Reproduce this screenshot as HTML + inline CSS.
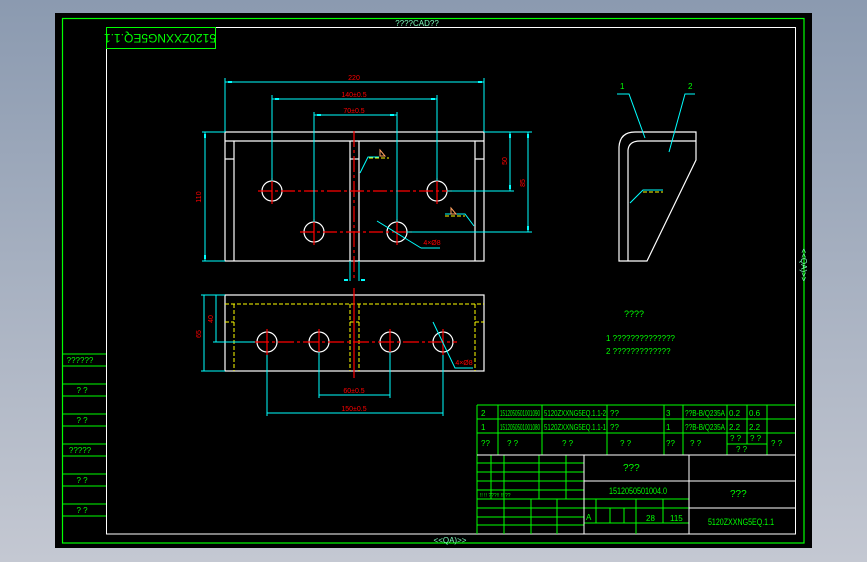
<!DOCTYPE html>
<html><head><meta charset="utf-8"><style>
html,body{margin:0;padding:0;width:867px;height:562px;overflow:hidden;background:linear-gradient(#8b9ab0,#c4c8d2);}
svg{display:block}
text{font-family:"Liberation Sans",sans-serif;}
.n{font-family:"Liberation Sans Narrow","Liberation Sans",sans-serif;}
</style></head><body>
<svg width="867" height="562" viewBox="0 0 867 562" xmlns="http://www.w3.org/2000/svg">
<rect x="55" y="13" width="757" height="535" fill="#000"/>
<rect x="62.5" y="18.5" width="741.5" height="524.5" fill="none" stroke="#00ff00" stroke-width="1.2"/>
<rect x="106.5" y="27.5" width="689" height="506.5" fill="none" stroke="#fff" stroke-width="1"/>
<text x="417" y="26" font-size="8" fill="#7fffbf" text-anchor="middle">????CAD??</text>
<text x="450" y="543" font-size="8" fill="#7fffbf" text-anchor="middle">&lt;&lt;QA)&gt;&gt;</text>
<text x="0" y="0" font-size="8" fill="#7fffbf" text-anchor="middle" transform="translate(801,265) rotate(90)">&lt;&lt;QA)&gt;&gt;</text>
<!-- top-left box -->
<rect x="106.5" y="27.5" width="109" height="21" fill="none" stroke="#00ff00"/>
<text x="0" y="0" font-size="12" fill="#00ff00" text-anchor="middle" transform="translate(160,34) rotate(180)">5120ZXXNG5EQ.1.1</text>
<!-- left column -->
<g stroke="#00ff00" stroke-width="1">
<line x1="62" y1="354" x2="106" y2="354"/><line x1="62" y1="366" x2="106" y2="366"/>
<line x1="62" y1="384" x2="106" y2="384"/><line x1="62" y1="396" x2="106" y2="396"/>
<line x1="62" y1="414" x2="106" y2="414"/><line x1="62" y1="426" x2="106" y2="426"/>
<line x1="62" y1="444" x2="106" y2="444"/><line x1="62" y1="456" x2="106" y2="456"/>
<line x1="62" y1="474" x2="106" y2="474"/><line x1="62" y1="486" x2="106" y2="486"/>
<line x1="62" y1="504" x2="106" y2="504"/><line x1="62" y1="516" x2="106" y2="516"/>
</g>
<g font-size="8" fill="#00ff00" text-anchor="middle">
<text x="80" y="363">??????</text><text x="82" y="393">? ?</text><text x="82" y="423">? ?</text>
<text x="80" y="453">?????</text><text x="82" y="483">? ?</text><text x="82" y="513">? ?</text>
</g>

<!-- FRONT VIEW -->
<g stroke="#fff" stroke-width="1.2" fill="none">
<rect x="225" y="132" width="259" height="129"/>
<line x1="225" y1="141" x2="484" y2="141"/>
<line x1="234" y1="141" x2="234" y2="261"/><line x1="475" y1="141" x2="475" y2="261"/>
<line x1="225" y1="159" x2="234" y2="159"/><line x1="475" y1="159" x2="484" y2="159"/>
<line x1="350" y1="141" x2="350" y2="261"/><line x1="359" y1="141" x2="359" y2="261"/>
<line x1="350" y1="159" x2="359" y2="159"/>
<circle cx="272" cy="191" r="10"/><circle cx="437" cy="191" r="10"/>
<circle cx="314" cy="232" r="10"/><circle cx="397" cy="232" r="10"/>
</g>
<g stroke="#ff0000" stroke-width="1.2">
<line x1="258" y1="191" x2="452" y2="191" stroke-dasharray="14,3,3,3"/>
<line x1="300" y1="232" x2="412" y2="232" stroke-dasharray="14,3,3,3"/>
<line x1="354" y1="131" x2="354" y2="280" stroke-dasharray="16,3,3,3"/>
<line x1="272" y1="178" x2="272" y2="204"/><line x1="437" y1="178" x2="437" y2="204"/>
<line x1="314" y1="219" x2="314" y2="245"/><line x1="397" y1="219" x2="397" y2="245"/>
</g>
<g stroke="#00ffff" stroke-width="1" fill="none">
<line x1="225" y1="78" x2="225" y2="132"/><line x1="484" y1="78" x2="484" y2="132"/>
<line x1="225" y1="82" x2="484" y2="82"/>
<line x1="272" y1="95" x2="272" y2="181"/><line x1="437" y1="95" x2="437" y2="181"/>
<line x1="272" y1="99" x2="437" y2="99"/>
<line x1="314" y1="112" x2="314" y2="222"/><line x1="397" y1="112" x2="397" y2="222"/>
<line x1="314" y1="115" x2="397" y2="115"/>
<line x1="202" y1="132" x2="225" y2="132"/><line x1="202" y1="261" x2="225" y2="261"/>
<line x1="205" y1="132" x2="205" y2="261"/>
<line x1="484" y1="132" x2="532" y2="132"/>
<line x1="447" y1="191" x2="514" y2="191"/><line x1="407" y1="232" x2="532" y2="232"/>
<line x1="510" y1="132" x2="510" y2="191"/><line x1="528" y1="132" x2="528" y2="232"/>
<line x1="350" y1="261" x2="350" y2="281"/><line x1="359" y1="261" x2="359" y2="281"/>
<line x1="377" y1="221" x2="421" y2="248"/><line x1="421" y1="248" x2="440" y2="248"/>
<polyline points="360,173 368,157 379,157"/>
<polyline points="474,226 465,214 445,214"/>
</g>
<g fill="#00ffff">
<rect x="228" y="81" width="4" height="2"/><rect x="478" y="81" width="4" height="2"/>
<rect x="275" y="98" width="4" height="2"/><rect x="431" y="98" width="4" height="2"/>
<rect x="317" y="114" width="4" height="2"/><rect x="390" y="114" width="4" height="2"/>
<rect x="204" y="134" width="2" height="4"/><rect x="204" y="255" width="2" height="4"/>
<rect x="509" y="134" width="2" height="4"/><rect x="509" y="185" width="2" height="4"/>
<rect x="527" y="134" width="2" height="4"/><rect x="527" y="226" width="2" height="4"/>
<rect x="344" y="279" width="4" height="2"/><rect x="361" y="279" width="4" height="2"/>
</g>
<line x1="369" y1="158" x2="389" y2="158" stroke="#ffff00" stroke-dasharray="4,2"/>
<line x1="445" y1="216" x2="465" y2="216" stroke="#ffff00" stroke-dasharray="4,2"/>
<path d="M380,150 L385,156 L380,156Z M451,208 L456,214 L451,214Z" fill="none" stroke="#ffa060"/>
<g font-size="7" fill="#ff0000" text-anchor="middle">
<text x="354" y="80">220</text><text x="354" y="97">140±0.5</text><text x="354" y="113">70±0.5</text>
<text x="432" y="245">4×Ø8</text>
<text transform="translate(201,197) rotate(-90)">110</text>
<text transform="translate(507,161) rotate(-90)">50</text>
<text transform="translate(525,183) rotate(-90)">85</text>
</g>

<!-- BOTTOM VIEW -->
<g stroke="#fff" stroke-width="1.2" fill="none">
<rect x="225" y="295" width="259" height="76"/>
<circle cx="267" cy="342" r="10"/><circle cx="319" cy="342" r="10"/>
<circle cx="390" cy="342" r="10"/><circle cx="443" cy="342" r="10"/>
</g>
<g stroke="#ffff00" stroke-width="1" stroke-dasharray="4,2" fill="none">
<line x1="225" y1="304" x2="484" y2="304"/>
<line x1="234" y1="304" x2="234" y2="371"/><line x1="475" y1="304" x2="475" y2="371"/>
<line x1="225" y1="322" x2="234" y2="322"/><line x1="475" y1="322" x2="484" y2="322"/>
<line x1="350" y1="304" x2="350" y2="371"/><line x1="359" y1="304" x2="359" y2="371"/>
<line x1="350" y1="322" x2="359" y2="322"/>
</g>
<g stroke="#ff0000" stroke-width="1.2">
<line x1="253" y1="342" x2="457" y2="342" stroke-dasharray="16,3,3,3"/>
<line x1="354" y1="288" x2="354" y2="378"/>
<line x1="267" y1="329" x2="267" y2="355"/><line x1="319" y1="329" x2="319" y2="355"/>
<line x1="390" y1="329" x2="390" y2="355"/><line x1="443" y1="329" x2="443" y2="355"/>
</g>
<g stroke="#00ffff" stroke-width="1" fill="none">
<line x1="201" y1="295" x2="225" y2="295"/><line x1="201" y1="371" x2="225" y2="371"/>
<line x1="213" y1="342" x2="255" y2="342"/>
<line x1="204" y1="295" x2="204" y2="371"/><line x1="216" y1="295" x2="216" y2="342"/>
<line x1="267" y1="355" x2="267" y2="416"/><line x1="443" y1="355" x2="443" y2="416"/>
<line x1="319" y1="352" x2="319" y2="398"/><line x1="390" y1="352" x2="390" y2="398"/>
<line x1="319" y1="395" x2="390" y2="395"/><line x1="267" y1="413" x2="443" y2="413"/>
<polyline points="433,322 455,368 473,368"/>
</g>
<g font-size="7" fill="#ff0000" text-anchor="middle">
<text x="354" y="393">60±0.5</text><text x="354" y="411">150±0.5</text><text x="464" y="365">4×Ø8</text>
<text transform="translate(201,334) rotate(-90)">65</text>
<text transform="translate(213,319) rotate(-90)">40</text>
</g>

<!-- SIDE VIEW -->
<g stroke="#fff" stroke-width="1.2" fill="none">
<path d="M619,261 L619,147 Q620,132 635,132 L696,132 L696,160 L647,261 Z"/>
<path d="M628,261 L628,150 Q629,141 640,141 L696,141"/>
</g>
<g stroke="#00ffff" stroke-width="1" fill="none">
<polyline points="617,94 629,94 645,138"/>
<polyline points="695,94 685,94 669,152"/>
<polyline points="630,203 643,190 663,190"/>
</g>
<line x1="643" y1="192" x2="663" y2="192" stroke="#ffff00" stroke-dasharray="4,2"/>
<g font-size="8" fill="#00ff00"><text x="620" y="89">1</text><text x="688" y="89">2</text></g>

<!-- notes -->
<g font-size="9" fill="#00ff00">
<text x="624" y="317">????</text>
<text x="606" y="341" font-size="8">1 ??????????????</text>
<text x="606" y="354" font-size="8">2 ?????????????</text>
</g>

<!-- TITLE BLOCK -->
<g stroke="#00ff00" stroke-width="1" fill="none">
<line x1="477" y1="405" x2="795" y2="405"/><line x1="477" y1="419" x2="795" y2="419"/>
<line x1="477" y1="433" x2="795" y2="433"/>
<line x1="477" y1="405" x2="477" y2="534"/>
<line x1="498" y1="405" x2="498" y2="455"/><line x1="542" y1="405" x2="542" y2="455"/>
<line x1="607" y1="405" x2="607" y2="455"/><line x1="664" y1="405" x2="664" y2="455"/>
<line x1="683" y1="405" x2="683" y2="455"/><line x1="727" y1="405" x2="727" y2="455"/>
<line x1="747" y1="405" x2="747" y2="444"/><line x1="767" y1="405" x2="767" y2="455"/>
<line x1="727" y1="444" x2="767" y2="444"/>
<line x1="491" y1="455" x2="491" y2="499"/><line x1="504" y1="455" x2="504" y2="534"/>
<line x1="539" y1="455" x2="539" y2="499"/><line x1="566" y1="455" x2="566" y2="499"/>
<line x1="477" y1="463" x2="584" y2="463"/><line x1="477" y1="472" x2="584" y2="472"/>
<line x1="477" y1="481" x2="584" y2="481"/><line x1="477" y1="490" x2="584" y2="490"/>
<line x1="477" y1="499" x2="584" y2="499"/>
<line x1="531" y1="499" x2="531" y2="534"/><line x1="557" y1="499" x2="557" y2="534"/>
<line x1="477" y1="508" x2="584" y2="508"/><line x1="477" y1="517" x2="584" y2="517"/>
<line x1="477" y1="525" x2="584" y2="525"/>
<line x1="584" y1="499" x2="689" y2="499"/><line x1="584" y1="508" x2="689" y2="508"/>
<line x1="584" y1="523" x2="689" y2="523"/>
<line x1="596" y1="499" x2="596" y2="523"/><line x1="610" y1="508" x2="610" y2="523"/>
<line x1="624" y1="508" x2="624" y2="523"/><line x1="636" y1="499" x2="636" y2="534"/>
<line x1="663" y1="499" x2="663" y2="523"/>
</g>
<g stroke="#fff" stroke-width="1" fill="none">
<line x1="477" y1="455" x2="795" y2="455"/>
<line x1="584" y1="455" x2="584" y2="534"/><line x1="689" y1="455" x2="689" y2="534"/>
<line x1="584" y1="481" x2="795" y2="481"/><line x1="689" y1="508" x2="795" y2="508"/>
</g>
<g font-size="8" fill="#00ff00" class="n">
<text x="481" y="416">2</text><text x="500" y="416" textLength="40" lengthAdjust="spacingAndGlyphs">1512050501001090</text><text x="544" y="416" textLength="62" lengthAdjust="spacingAndGlyphs">5120ZXXNG5EQ.1.1-2</text><text x="610" y="416">??</text><text x="666" y="416">3</text><text x="685" y="416" textLength="40" lengthAdjust="spacingAndGlyphs">??B-B/Q235A</text><text x="729" y="416">0.2</text><text x="749" y="416">0.6</text>
<text x="481" y="430">1</text><text x="500" y="430" textLength="40" lengthAdjust="spacingAndGlyphs">1512050501001080</text><text x="544" y="430" textLength="62" lengthAdjust="spacingAndGlyphs">5120ZXXNG5EQ.1.1-1</text><text x="610" y="430">??</text><text x="666" y="430">1</text><text x="685" y="430" textLength="40" lengthAdjust="spacingAndGlyphs">??B-B/Q235A</text><text x="729" y="430">2.2</text><text x="749" y="430">2.2</text>
<text x="481" y="446">??</text><text x="507" y="446">?    ?</text><text x="562" y="446">?    ?</text><text x="620" y="446">?    ?</text><text x="666" y="446">??</text><text x="690" y="446">?    ?</text><text x="730" y="441">? ?</text><text x="750" y="441">? ?</text><text x="736" y="452">?  ?</text><text x="771" y="446">?   ?</text>
<text x="623" y="471" font-size="10">???</text>
<text x="609" y="494" font-size="9" textLength="58" lengthAdjust="spacingAndGlyphs">1512050501004.0</text>
<text x="730" y="497" font-size="10">???</text>
<text x="708" y="525" font-size="9" textLength="66" lengthAdjust="spacingAndGlyphs">5120ZXXNG5EQ.1.1</text>
<text x="586" y="520">A</text><text x="646" y="521">28</text><text x="670" y="521">115</text>
<text x="480" y="497" font-size="5">!!   !!   ???!!       !!       ??</text>
</g>
</svg>
</body></html>
